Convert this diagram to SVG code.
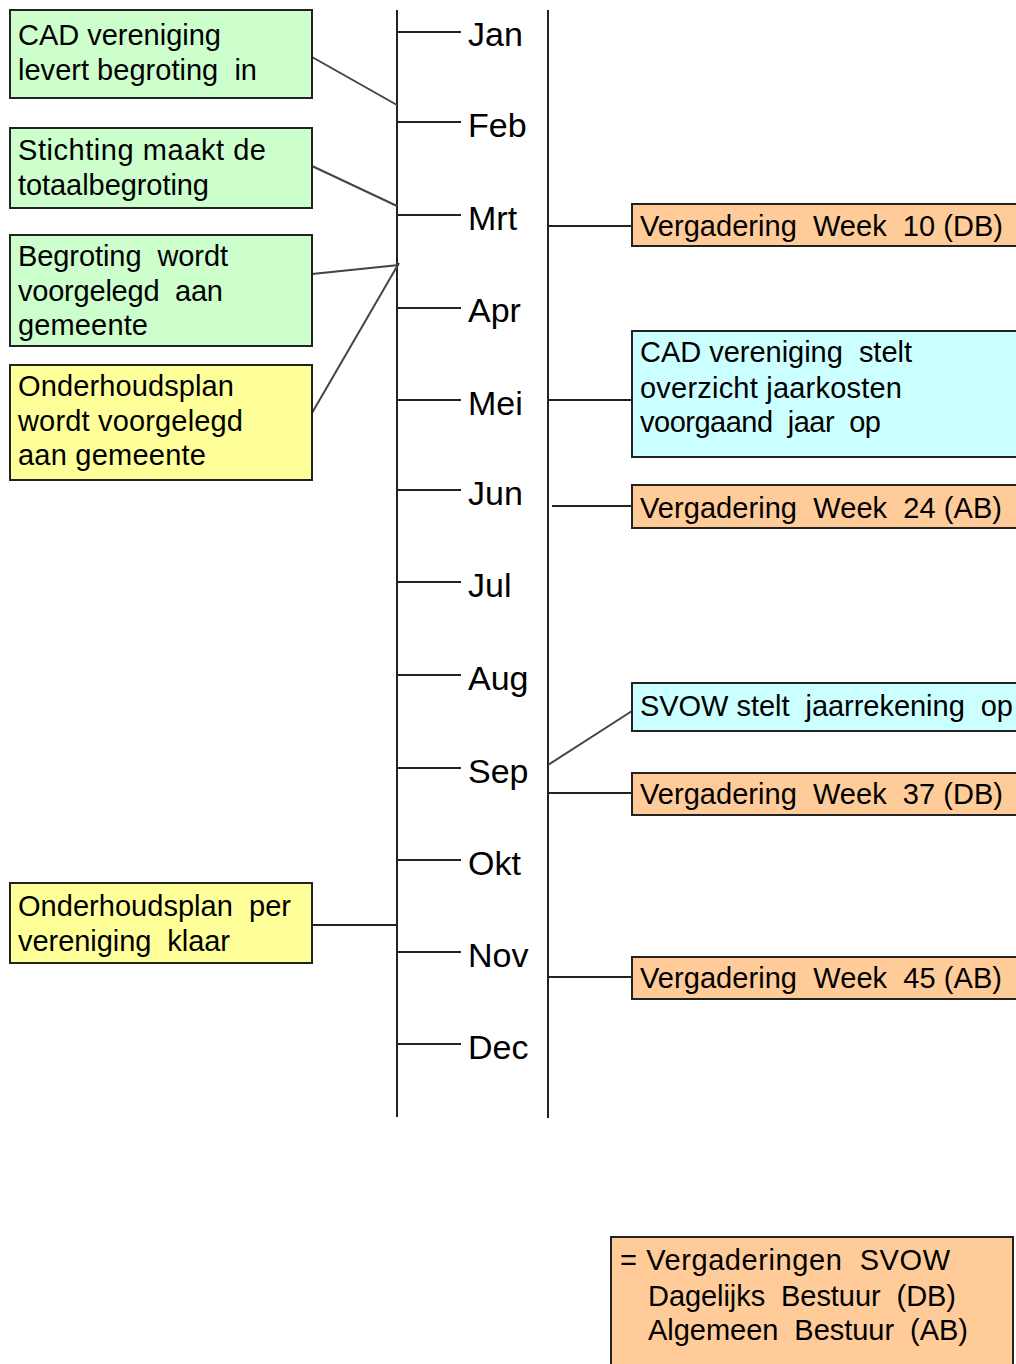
<svg xmlns="http://www.w3.org/2000/svg" width="1016" height="1364" viewBox="0 0 1016 1364" xml:space="preserve">
<style>
.box{stroke:#222;stroke-width:2}
.g{fill:#CCFFCC}.y{fill:#FFFF99}.o{fill:#FFCC99}.c{fill:#CCFFFF}
.t{font-family:"Liberation Sans",Arial,sans-serif;font-size:29px;fill:#000;white-space:pre}
.m{font-family:"Liberation Sans",Arial,sans-serif;font-size:34px;fill:#000}
.ln{stroke:#222;stroke-width:2;fill:none}
.dg{stroke:#444;stroke-width:2;fill:none}
</style>
<rect width="1016" height="1364" fill="#fff"/>
<g id="timeline">
<line class="ln" x1="397" y1="10" x2="397" y2="1117"/>
<line class="ln" x1="548" y1="10" x2="548" y2="1118"/>
<line class="ln" x1="397" y1="32" x2="461" y2="32"/>
<line class="ln" x1="397" y1="122" x2="461" y2="122"/>
<line class="ln" x1="397" y1="215" x2="461" y2="215"/>
<line class="ln" x1="397" y1="308" x2="461" y2="308"/>
<line class="ln" x1="397" y1="400" x2="461" y2="400"/>
<line class="ln" x1="397" y1="490" x2="461" y2="490"/>
<line class="ln" x1="397" y1="582" x2="461" y2="582"/>
<line class="ln" x1="397" y1="675" x2="461" y2="675"/>
<line class="ln" x1="397" y1="768" x2="461" y2="768"/>
<line class="ln" x1="397" y1="860" x2="461" y2="860"/>
<line class="ln" x1="397" y1="952" x2="461" y2="952"/>
<line class="ln" x1="397" y1="1044" x2="461" y2="1044"/>
<text class="m" x="468" y="46">Jan</text>
<text class="m" x="468" y="137">Feb</text>
<text class="m" x="468" y="230">Mrt</text>
<text class="m" x="468" y="322">Apr</text>
<text class="m" x="468" y="415">Mei</text>
<text class="m" x="468" y="505">Jun</text>
<text class="m" x="468" y="597">Jul</text>
<text class="m" x="468" y="690">Aug</text>
<text class="m" x="468" y="783">Sep</text>
<text class="m" x="468" y="875">Okt</text>
<text class="m" x="468" y="967">Nov</text>
<text class="m" x="468" y="1059">Dec</text>
</g>
<g id="connectors">
<line class="dg" x1="312" y1="57" x2="397" y2="105"/>
<line class="dg" x1="312" y1="166" x2="397" y2="206"/>
<line class="dg" x1="312" y1="274" x2="399" y2="265"/>
<line class="dg" x1="312" y1="413" x2="399" y2="263"/>
<line class="ln" x1="312" y1="925" x2="397" y2="925"/>
<line class="ln" x1="548" y1="226" x2="632" y2="226"/>
<line class="ln" x1="548" y1="400" x2="632" y2="400"/>
<line class="ln" x1="552" y1="506" x2="632" y2="506"/>
<line class="dg" x1="548" y1="765" x2="632" y2="711"/>
<line class="ln" x1="548" y1="793" x2="632" y2="793"/>
<line class="ln" x1="548" y1="977" x2="632" y2="977"/>
</g>
<g id="n1">
<rect class="box g" x="10" y="10" width="302" height="88"/>
<text class="t" x="18" y="45" textLength="203">CAD vereniging</text>
<text class="t" x="18" y="80" textLength="239">levert begroting  in</text>
</g>
<g id="n2">
<rect class="box g" x="10" y="128" width="302" height="80"/>
<text class="t" x="18" y="160" textLength="248">Stichting maakt de</text>
<text class="t" x="18" y="195" textLength="191">totaalbegroting</text>
</g>
<g id="n3">
<rect class="box g" x="10" y="235" width="302" height="111"/>
<text class="t" x="18" y="266" textLength="210">Begroting  wordt</text>
<text class="t" x="18" y="301" textLength="205">voorgelegd  aan</text>
<text class="t" x="18" y="335" textLength="130">gemeente</text>
</g>
<g id="n4">
<rect class="box y" x="10" y="365" width="302" height="115"/>
<text class="t" x="18" y="396" textLength="216">Onderhoudsplan</text>
<text class="t" x="18" y="431" textLength="225">wordt voorgelegd</text>
<text class="t" x="18" y="465" textLength="188">aan gemeente</text>
</g>
<g id="n5">
<rect class="box y" x="10" y="883" width="302" height="80"/>
<text class="t" x="18" y="916" textLength="273">Onderhoudsplan  per</text>
<text class="t" x="18" y="951" textLength="212">vereniging  klaar</text>
</g>
<g id="r1">
<rect class="box o" x="632" y="204" width="400" height="42"/>
<text class="t" x="640" y="236" textLength="363">Vergadering  Week  10 (DB)</text>
</g>
<g id="r2">
<rect class="box c" x="632" y="331" width="400" height="126"/>
<text class="t" x="640" y="362" textLength="272">CAD vereniging  stelt</text>
<text class="t" x="640" y="398" textLength="262">overzicht jaarkosten</text>
<text class="t" x="640" y="432" textLength="241">voorgaand  jaar  op</text>
</g>
<g id="r3">
<rect class="box o" x="632" y="485" width="400" height="43"/>
<text class="t" x="640" y="518" textLength="362">Vergadering  Week  24 (AB)</text>
</g>
<g id="r4">
<rect class="box c" x="632" y="683" width="400" height="48"/>
<text class="t" x="640" y="716" textLength="373">SVOW stelt  jaarrekening  op</text>
</g>
<g id="r5">
<rect class="box o" x="632" y="773" width="400" height="42"/>
<text class="t" x="640" y="804" textLength="363">Vergadering  Week  37 (DB)</text>
</g>
<g id="r6">
<rect class="box o" x="632" y="957" width="400" height="42"/>
<text class="t" x="640" y="988" textLength="362">Vergadering  Week  45 (AB)</text>
</g>
<g id="legend">
<rect class="box o" x="611" y="1237" width="402" height="140"/>
<text class="t" x="620" y="1270" textLength="330">= Vergaderingen  SVOW</text>
<text class="t" x="648" y="1306" textLength="308">Dagelijks  Bestuur  (DB)</text>
<text class="t" x="648" y="1340" textLength="320">Algemeen  Bestuur  (AB)</text>
</g>
</svg>
